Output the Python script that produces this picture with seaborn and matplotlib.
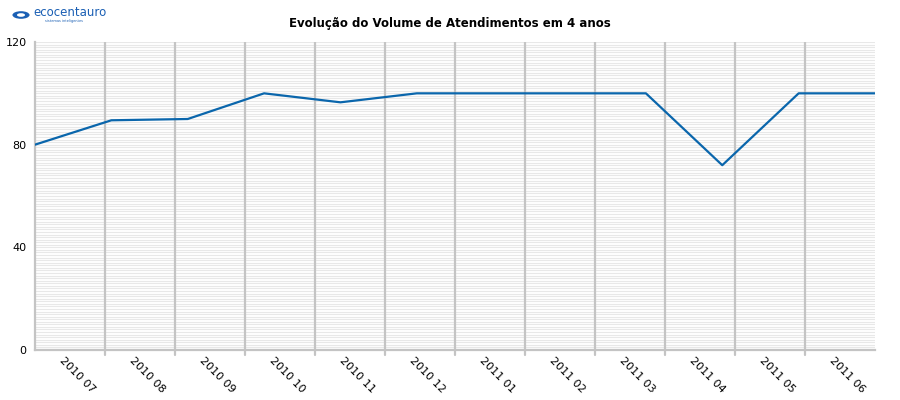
import numpy as np
import pandas as pd
import matplotlib.pyplot as plt
import seaborn as sns
from matplotlib.patches import Circle

# -------------------------------
# Data
# -------------------------------
months = ["2010 07", "2010 08", "2010 09", "2010 10", "2010 11", "2010 12",
          "2011 01", "2011 02", "2011 03", "2011 04", "2011 05", "2011 06"]
volume = [80, 89.5, 90, 100, 96.5, 100, 100, 100, 100, 72, 100, 100]
y_ticks = [0, 40, 80, 120]

df = pd.DataFrame({"idx": np.arange(len(months)), "volume": volume})

# -------------------------------
# Plot
# -------------------------------
sns.set_style("white")
plt.rcParams["font.family"] = ["DejaVu Sans"]

fig = plt.figure(figsize=(9, 4), dpi=100)
ax = fig.add_axes([35 / 900, 1 - 350 / 400, 840 / 900, 308 / 400])

n = len(months)
span = n - 1

# light horizontal stripes
for v in range(0, 121):
    ax.axhline(v, color="#e8e8e8", lw=0.8, zorder=0)

# vertical band separators (with small tick below the axis)
for i in range(1, n):
    xb = i * span / n
    ax.axvline(xb, color="#c4c4c4", lw=1.6, zorder=1)
    ax.plot([xb, xb], [0, -1.8], color="#c4c4c4", lw=1.6, clip_on=False)

sns.lineplot(data=df, x="idx", y="volume", color="#0a66ac", lw=1.6, ax=ax, zorder=3)

ax.set_xlim(0, span)
ax.set_ylim(0, 120)
ax.set_yticks(y_ticks)
ax.set_yticklabels([str(t) for t in y_ticks], fontsize=8, color="black")
ax.set_xticks([(i + 0.42) * span / n for i in range(n)])
ax.set_xticklabels(months, rotation=-45, ha="left", rotation_mode="anchor",
                   fontsize=8, color="black")
ax.tick_params(axis="x", length=0, pad=4)
ax.tick_params(axis="y", length=4, color="#c4c4c4", width=1.5, pad=2)
ax.set_xlabel("")
ax.set_ylabel("")

for side in ["top", "right"]:
    ax.spines[side].set_visible(False)
ax.spines["left"].set_color("#c4c4c4")
ax.spines["left"].set_linewidth(1.6)
ax.spines["bottom"].set_color("#c4c4c4")
ax.spines["bottom"].set_linewidth(1.6)

fig.text(450 / 900, 1 - 24 / 400, "Evolução do Volume de Atendimentos em 4 anos",
         ha="center", va="center", fontsize=8.5, fontweight="bold", color="black")

# logo
fig.patches.append(Circle((21 / 900, 1 - 15 / 400), 0.0095, transform=fig.transFigure,
                          facecolor="#1a5fb4", edgecolor="none"))
fig.patches.append(Circle((21 / 900, 1 - 15 / 400), 0.0045, transform=fig.transFigure,
                          facecolor="white", edgecolor="none"))
fig.text(33 / 900, 1 - 13 / 400, "ecocentauro", color="#1a5fb4", fontsize=8.5,
         ha="left", va="center")
fig.text(45 / 900, 1 - 21 / 400, "sistemas inteligentes", color="#1a5fb4", fontsize=2.5,
         ha="left", va="center")

plt.savefig("out.png", dpi=100)
plt.close()
